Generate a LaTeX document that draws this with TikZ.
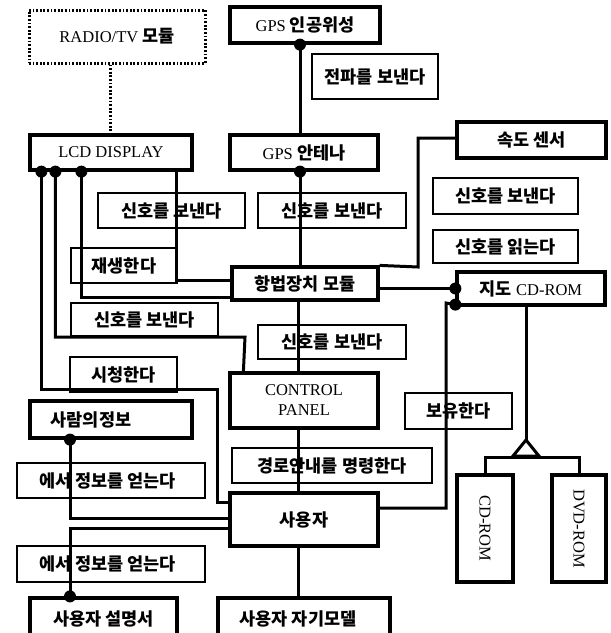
\documentclass[tikz,border=0pt]{standalone}
\usepackage{fontspec}
\setmainfont{Liberation Serif}
\newfontfamily\kr{Noto Sans CJK KR}
\newcommand\K[1]{{\kr\bfseries\fontsize{17.5}{20}\selectfont #1}}
\begin{document}
\begin{tikzpicture}[x=1pt,y=-1pt,
  every node/.style={inner sep=0pt, font=\fontsize{16.5}{20}\selectfont},
  box/.style={draw, line width=3.2pt, rectangle},
  dotbox/.style={draw, line width=3pt, dash pattern=on 1.8pt off 1.8pt, rectangle},
  lbl/.style={draw, line width=1.6pt, rectangle},
  conn/.style={line width=3pt},
  dotconn/.style={line width=3pt, dash pattern=on 1.8pt off 1.8pt}]
\useasboundingbox (0,0) rectangle (611,633);

% main boxes
\node[dotbox, minimum width=176, minimum height=53] (radio) at (117,36.5) {RADIO/TV \K{모듈}};
\node[box, minimum width=150, minimum height=36] (gpssat) at (305,25) {GPS \K{인공위성}};
\node[box, minimum width=162, minimum height=35] (lcd) at (111,152.5) {LCD DISPLAY};
\node[box, minimum width=148, minimum height=35] (gpsant) at (304,152.5) {GPS \K{안테나}};
\node[box, minimum width=149, minimum height=36] (speed) at (531.5,140) {\K{속도 센서}};
\node[box, minimum width=146, minimum height=33] (nav) at (305,283.5) {\K{항법장치 모듈}};
\node[box, minimum width=148, minimum height=33] (map) at (531,288.5) {\K{지도} CD-ROM};
\node[box, minimum width=148, minimum height=55, align=center] (control) at (304,400.5) {CONTROL\\PANEL};
\node[box, minimum width=162, minimum height=37] (human) at (111,419.5) {\K{사람의정보}\hspace*{40pt}};
\node[box, minimum width=148, minimum height=53] (user) at (304,519.5) {\K{사용자}};
\node[box, minimum width=56, minimum height=107] (cd) at (485,528.5) {\rotatebox{-90}{CD-ROM}};
\node[box, minimum width=54, minimum height=107] (dvd) at (579,528.5) {\rotatebox{-90}{DVD-ROM}};
\node[box, minimum width=147, minimum height=44] (manual) at (103.5,620) {\raisebox{4pt}{\K{사용자 설명서}}};
\node[box, minimum width=172, minimum height=44] (selfmodel) at (304,620) {\raisebox{4pt}{\K{사용자 자기모델}}\hspace*{12pt}};

% label boxes
\node[lbl, minimum width=126, minimum height=45] (wave) at (375,76.5) {\K{전파를 보낸다}};
\node[lbl, minimum width=147, minimum height=35] (sig1) at (171.5,210.5) {\K{신호를 보낸다}};
\node[lbl, minimum width=148, minimum height=35] (sig2) at (332,210.5) {\K{신호를 보낸다}};
\node[lbl, minimum width=145, minimum height=36] (sig3) at (505.5,196) {\K{신호를 보낸다}};
\node[lbl, minimum width=145, minimum height=33] (read) at (505.5,246.5) {\K{신호를 읽는다}};
\node[lbl, minimum width=106, minimum height=35] (play) at (124,265.5) {\K{재생한다}};
\node[lbl, minimum width=147, minimum height=33] (sig4) at (144.5,319.5) {\K{신호를 보낸다}};
\node[lbl, minimum width=148, minimum height=34] (sig5) at (332,342) {\K{신호를 보낸다}};
\node[lbl, minimum width=107, minimum height=35] (watch) at (123.5,374.5) {\K{시청한다}};
\node[lbl, minimum width=107, minimum height=36] (keep) at (458.5,411) {\K{보유한다}};
\node[lbl, minimum width=200, minimum height=35] (route) at (332,465.5) {\K{경로안내를 명령한다}};
\node[lbl, minimum width=188, minimum height=35] (get1) at (111,480.5) {\K{에서 정보를 얻는다}\hspace*{7pt}};
\node[lbl, minimum width=188, minimum height=36] (get2) at (111,564) {\K{에서 정보를 얻는다}\hspace*{7pt}};

% helper coordinates
\coordinate (apex) at (526,440);
\coordinate (barR) at (579,457);

% connectors
\draw[dotconn] ([xshift=-7]radio.south) -- ([xshift=-1]lcd.north);
\draw[conn] ([xshift=-5]gpssat.south) -- ([xshift=-4]gpsant.north);
\fill ([xshift=-5]gpssat.south) circle[radius=6pt];
\draw[conn] ([xshift=-4]gpsant.south) -- ([xshift=-5]nav.north);
\fill ([xshift=-4]gpsant.south) circle[radius=6pt];

\draw[conn] ([xshift=13]lcd.south west) |- (217,389) |- ([yshift=17.5]user.west);
\fill ([xshift=13]lcd.south west) circle[radius=6pt];
\draw[conn] ([xshift=27]lcd.south west) |- (245,337) -- ([xshift=15]control.north west);
\fill ([xshift=27]lcd.south west) circle[radius=6pt];
\draw[conn] ([xshift=53]lcd.south west) |- ([yshift=-13.5]nav.west);
\fill ([xshift=53]lcd.south west) circle[radius=6pt];
\draw[conn] ([xshift=148]lcd.south west) |- ([yshift=3.5]nav.west);

\draw[conn] ([yshift=2]speed.west) -| (418,267) -- (nav.north east);
\draw[conn] (map.west -| nav.east) -- (map.west);
\fill (map.west) circle[radius=6pt];
\draw[conn] ([yshift=2]map.south west) -- (446,303) |- ([yshift=11.5]user.east);
\fill ([yshift=2]map.south west) circle[radius=6pt];

\draw[conn] ([xshift=-5]map.south) -- (apex);
\draw[conn, line join=miter] (apex) -- ++(-13,16) -- ++(26,0) -- cycle;
\draw[conn] (cd.north) |- (barR) -- (dvd.north);

\draw[conn] ([xshift=-7]nav.south) -- ([xshift=-6]control.north);
\draw[conn] ([xshift=-6]control.south) -- ([xshift=-6]user.north);
\draw[conn] ([xshift=-6]user.south) -- ([xshift=-6]selfmodel.north);

\draw[conn] ([xshift=-41]human.south) |- ([yshift=1.5]user.west);
\fill ([xshift=-41]human.south) circle[radius=6pt];
\draw[conn] ([yshift=-8.5]user.west) -| ([xshift=-33.5]manual.north);
\fill ([xshift=-33.5]manual.north) circle[radius=6pt];
\end{tikzpicture}
\end{document}
